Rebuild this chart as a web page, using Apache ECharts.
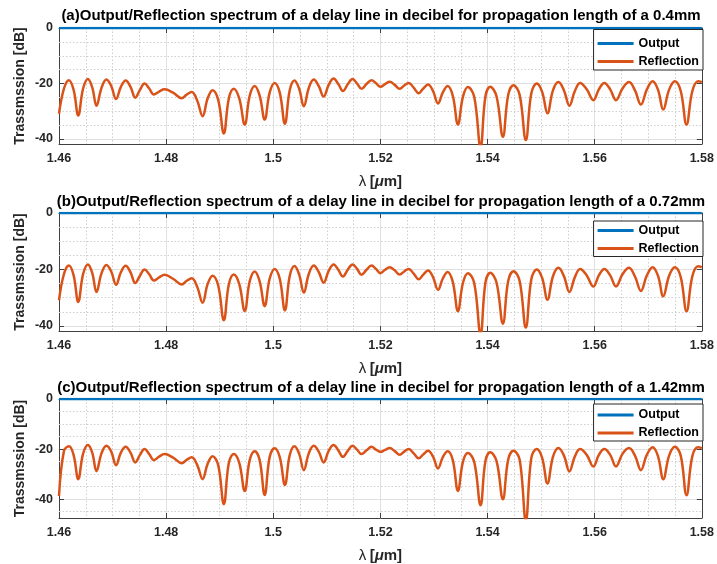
<!DOCTYPE html>
<html><head><meta charset="utf-8">
<script src="https://cdn.jsdelivr.net/npm/echarts@6/dist/echarts.min.js"></script>
<style>html,body{margin:0;padding:0;background:#fff}#c{width:717px;height:564px}</style>
</head><body><div id="c"></div>
<script>
// ---- data ----
const xTicks = [1.46, 1.48, 1.5, 1.52, 1.54, 1.56, 1.58];
const yTicks = [0, -20, -40];
const yMinorAB = [-5, -10, -15, -25, -30, -35];
const yMinorC = [-5, -10, -15, -25, -30, -35, -45];
const lengths = ['0.4mm', '0.72mm', '1.42mm'];
const panelTags = ['(a)', '(b)', '(c)'];

const lambda = [
1.46000,1.46093,1.46186,1.46273,1.46359,1.46449,1.46539,1.46620,1.46700,1.46793,
1.46885,1.46975,1.47065,1.47155,1.47245,1.47335,1.47424,1.47511,1.47597,1.47684,
1.47771,1.47870,1.47969,1.48130,1.48291,1.48384,1.48477,1.48579,1.48681,1.48774,
1.48867,1.48972,1.49077,1.49170,1.49263,1.49365,1.49467,1.49560,1.49653,1.49746,
1.49839,1.49932,1.50025,1.50121,1.50217,1.50307,1.50396,1.50483,1.50570,1.50663,
1.50755,1.50848,1.50941,1.51034,1.51127,1.51214,1.51300,1.51390,1.51480,1.51564,
1.51647,1.51740,1.51833,1.51917,1.52000,1.52087,1.52174,1.52267,1.52360,1.52444,
1.52528,1.52621,1.52714,1.52801,1.52888,1.52982,1.53075,1.53165,1.53255,1.53351,
1.53447,1.53540,1.53633,1.53751,1.53869,1.53960,1.54050,1.54168,1.54286,1.54385,
1.54484,1.54599,1.54714,1.54817,1.54919,1.55019,1.55118,1.55221,1.55323,1.55426,
1.55528,1.55628,1.55727,1.55851,1.55975,1.56078,1.56180,1.56289,1.56398,1.56519,
1.56640,1.56752,1.56863,1.56972,1.57081,1.57181,1.57280,1.57389,1.57497,1.57606,
1.57714,1.57823,1.57931,1.58000];

const reflA = [
-30.9,-21.8,-18.8,-22.3,-31.5,-21.9,-18.4,-21.4,-28.0,-21.6,
-18.6,-20.9,-25.6,-21.2,-18.9,-21.2,-25.1,-22.3,-20.0,-21.8,
-24.0,-22.9,-22.1,-23.3,-25.3,-24.0,-23.1,-26.1,-31.8,-25.4,
-22.4,-25.9,-38.0,-25.4,-21.9,-25.4,-34.8,-24.4,-20.9,-24.4,
-33.0,-23.3,-19.8,-23.3,-34.5,-22.4,-18.9,-21.9,-28.2,-21.6,
-18.6,-20.9,-24.7,-20.5,-18.2,-20.2,-22.7,-20.3,-18.4,-20.0,
-21.9,-20.2,-18.8,-19.9,-21.2,-20.2,-19.4,-20.5,-21.9,-20.7,
-19.8,-21.5,-23.5,-21.8,-20.4,-22.7,-27.2,-23.2,-20.9,-24.4,
-34.8,-24.8,-21.3,-24.8,-43.0,-24.7,-21.2,-24.7,-39.2,-24.1,
-20.6,-24.1,-40.4,-23.5,-20.0,-23.0,-30.7,-22.5,-19.5,-22.5,
-28.0,-22.8,-19.8,-22.1,-26.0,-22.1,-19.8,-22.1,-26.0,-21.8,
-19.5,-22.5,-27.6,-22.2,-19.2,-22.2,-29.4,-22.2,-19.2,-22.7,
-34.8,-22.7,-19.2,-19.5];

const reflB = [
-30.9,-21.6,-18.6,-22.1,-31.5,-21.7,-18.2,-21.2,-28.0,-21.4,
-18.4,-20.7,-25.4,-21.0,-18.7,-21.0,-24.8,-22.2,-20.0,-21.7,
-23.9,-22.8,-21.9,-23.3,-25.3,-24.0,-23.1,-26.1,-31.8,-25.2,
-22.2,-25.7,-38.0,-25.3,-21.8,-25.2,-34.7,-24.2,-20.7,-24.2,
-33.0,-23.3,-19.8,-23.3,-34.5,-22.3,-18.8,-21.8,-28.2,-21.6,
-18.6,-20.9,-24.7,-20.5,-18.2,-20.1,-22.5,-20.1,-18.2,-19.8,
-21.9,-20.1,-18.6,-19.8,-21.3,-20.1,-19.2,-20.3,-21.8,-20.7,
-19.8,-21.5,-23.5,-21.8,-20.4,-22.7,-27.2,-23.2,-20.9,-24.4,
-34.8,-24.8,-21.3,-24.8,-43.0,-24.7,-21.2,-24.7,-39.2,-24.1,
-20.6,-24.1,-40.6,-23.5,-20.0,-23.0,-30.7,-22.4,-19.4,-22.4,
-28.0,-22.8,-19.8,-22.1,-26.0,-22.1,-19.8,-22.1,-26.0,-21.7,
-19.4,-22.5,-27.6,-22.2,-19.2,-22.2,-29.5,-22.2,-19.2,-22.7,
-34.8,-22.4,-18.9,-19.2];

const reflC = [
-38.7,-20.7,-18.9,-22.4,-32.0,-21.9,-18.4,-21.4,-28.8,-21.7,
-18.7,-21.0,-26.4,-21.4,-19.1,-21.4,-25.3,-22.3,-20.0,-22.0,
-24.4,-23.0,-22.0,-23.4,-25.6,-24.3,-23.3,-26.3,-32.0,-25.9,
-22.9,-26.4,-42.0,-25.5,-22.0,-25.5,-36.7,-24.4,-20.9,-24.4,
-38.3,-23.2,-19.7,-23.2,-34.3,-22.4,-18.9,-21.9,-28.4,-21.7,
-18.7,-21.0,-25.3,-20.7,-18.4,-20.5,-23.1,-20.7,-18.7,-20.2,
-22.0,-20.5,-19.1,-20.2,-21.1,-20.3,-19.6,-20.8,-22.3,-21.0,
-20.0,-21.7,-23.7,-22.1,-20.7,-23.0,-27.7,-23.2,-20.9,-24.4,
-36.7,-25.1,-21.6,-25.1,-42.4,-24.8,-21.3,-24.8,-40.0,-24.2,
-20.7,-24.2,-48.5,-23.5,-20.0,-23.5,-33.7,-23.1,-19.6,-22.6,
-28.9,-23.0,-20.0,-22.3,-26.9,-22.3,-20.0,-22.3,-26.9,-21.9,
-19.6,-22.6,-28.4,-22.3,-19.3,-22.8,-32.0,-22.6,-19.1,-22.6,
-38.4,-22.8,-19.3,-19.6];

const outLambda = [1.46, 1.58];
const outA = [0, 0];
const outB = [0, 0];
const outC = [0, 0];

// ---- layout ----
const FONT = '"Liberation Sans", Arial, sans-serif';
const panels = [
  {top: 28, height: 116, ymin: -41.8, refl: reflA, out: outA, minor: yMinorAB, titleY: 15.5, legTop: 29.5, legPad: [7.5, 4, 2, 4]},
  {top: 213, height: 118, ymin: -41.8, refl: reflB, out: outB, minor: yMinorAB, titleY: 201.5, legTop: 221, legPad: [3, 4, 1.5, 4]},
  {top: 399, height: 119, ymin: -47.5, refl: reflC, out: outC, minor: yMinorC, titleY: 387.5, legTop: 404, legPad: [4.5, 4, 1.5, 4]}
];
const axisCol = '#404040';
const grid = [], xAxis = [], yAxis = [], series = [], legend = [], graphic = [];

panels.forEach((p, i) => {
  grid.push({left: 59, right: 14, top: p.top, height: p.height, containLabel: false});
  xAxis.push({
    gridIndex: i, type: 'value', position: 'bottom', min: xTicks[0], max: xTicks[xTicks.length - 1], interval: 0.02,
    axisLine: {show: true, onZero: false, lineStyle: {color: axisCol, width: 1}},
    axisTick: {show: true, inside: true, length: 5, lineStyle: {color: axisCol}},
    axisLabel: {color: '#262626', fontWeight: 'bold', fontSize: 12.5, margin: 8, fontFamily: FONT},
    splitLine: {show: true, lineStyle: {color: '#e0e0e0', width: 1}},
    minorTick: {show: false, splitNumber: 4},
    minorSplitLine: {show: true, lineStyle: {color: '#cfcfcf', width: 1, type: [1.5, 2]}},
    name: '{l|λ} {a|[}{m|μ}{a|m]}', nameLocation: 'middle', nameGap: 30,
    nameTextStyle: {rich: {
      l: {fontSize: 15, fontFamily: FONT, color: '#262626'},
      a: {fontSize: 15, fontWeight: 'bold', fontFamily: FONT, color: '#262626'},
      m: {fontSize: 15, fontWeight: 'bold', fontStyle: 'italic', fontFamily: FONT, color: '#262626'}
    }}
  });
  xAxis.push({
    gridIndex: i, type: 'value', position: 'top', min: xTicks[0], max: xTicks[xTicks.length - 1], interval: 0.02,
    axisLine: {show: true, onZero: false, lineStyle: {color: axisCol, width: 1}},
    axisTick: {show: true, inside: true, length: 5, lineStyle: {color: axisCol}},
    axisLabel: {show: false}, splitLine: {show: false}
  });
  yAxis.push({
    gridIndex: i, type: 'value', position: 'left', min: p.ymin, max: 0,
    axisLine: {show: true, onZero: false, lineStyle: {color: axisCol, width: 1}},
    axisTick: {show: true, inside: true, length: 5, customValues: yTicks, lineStyle: {color: axisCol}},
    axisLabel: {customValues: yTicks, color: '#262626', fontWeight: 'bold', fontSize: 12.5, margin: 6, fontFamily: FONT},
    splitLine: {show: true, lineStyle: {color: '#e0e0e0', width: 1}},
    name: 'Trassmssion [dB]', nameLocation: 'middle', nameGap: 32, nameMoveOverlap: false,
    nameTextStyle: {fontWeight: 'bold', fontSize: 14, color: '#262626', fontFamily: FONT}
  });
  yAxis.push({
    gridIndex: i, type: 'value', position: 'right', min: p.ymin, max: 0,
    axisLine: {show: true, onZero: false, lineStyle: {color: axisCol, width: 1}},
    axisTick: {show: true, inside: true, length: 5, customValues: yTicks, lineStyle: {color: axisCol}},
    axisLabel: {show: false}, splitLine: {show: false}
  });
  series.push({
    type: 'line', xAxisIndex: 2 * i, yAxisIndex: 2 * i, data: [], z: 1, silent: true, symbol: 'none',
    markLine: {silent: true, symbol: 'none', animation: false, label: {show: false}, z: 1,
      lineStyle: {color: '#cfcfcf', width: 1, type: [1.5, 2]},
      data: p.minor.map(v => ({yAxis: v}))}
  });
  series.push({
    name: 'Output', type: 'line', xAxisIndex: 2 * i, yAxisIndex: 2 * i,
    data: outLambda.map((x, k) => [x, p.out[k]]), symbol: 'none', showSymbol: false,
    lineStyle: {color: '#0072BD', width: 2.5}, itemStyle: {color: '#0072BD'}, z: 3, animation: false
  });
  series.push({
    name: 'Reflection', type: 'line', xAxisIndex: 2 * i, yAxisIndex: 2 * i,
    data: lambda.map((x, k) => [x, p.refl[k]]), symbol: 'none', showSymbol: false, smooth: 0.4,
    lineStyle: {color: '#D95319', width: 2.5}, itemStyle: {color: '#D95319'}, z: 3, animation: false
  });
  legend.push({
    data: [{name: 'Output', icon: 'rect', itemStyle: {color: '#0072BD'}}, {name: 'Reflection', icon: 'rect', itemStyle: {color: '#D95319'}}],
    orient: 'vertical', right: 14, top: p.legTop, z: 10,
    itemWidth: 36, itemHeight: 3, itemGap: 5, padding: p.legPad,
    borderColor: '#262626', borderWidth: 1, backgroundColor: '#fff', borderRadius: 0,
    textStyle: {fontWeight: 'bold', fontSize: 12.5, color: '#000', fontFamily: FONT},
    selectedMode: false
  });
  graphic.push({
    type: 'text', x: 381, y: p.titleY,
    style: {text: panelTags[i] + 'Output/Reflection spectrum of a delay line in decibel for propagation length of a ' + lengths[i],
      align: 'center', verticalAlign: 'middle', font: 'bold 15px ' + FONT, fill: '#000'}
  });
});

const chart = echarts.init(document.getElementById('c'), null, {renderer: 'canvas'});
chart.setOption({
  animation: false,
  backgroundColor: '#fff',
  textStyle: {fontFamily: FONT},
  grid, xAxis, yAxis, series, legend, graphic
});
</script></body></html>
